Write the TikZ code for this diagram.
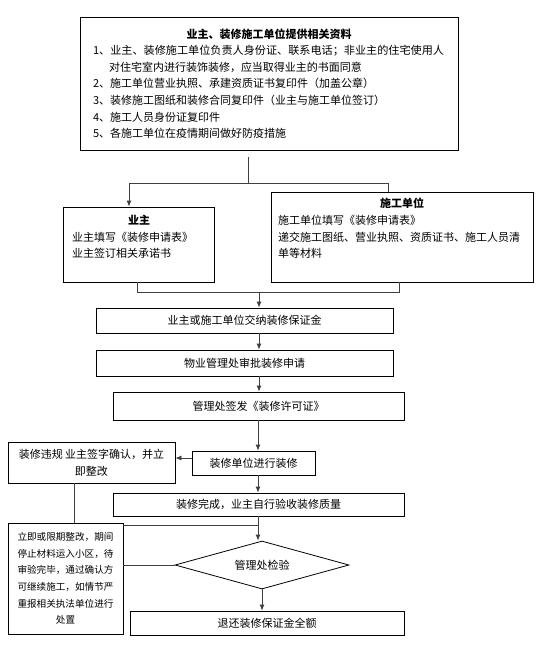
\documentclass[tikz,border=0pt]{standalone}
\usepackage{fontspec}
\setmainfont{Noto Sans CJK SC}
\usepackage{graphicx}
\usetikzlibrary{arrows.meta,shapes.geometric}
\tikzset{
  box/.style={draw=black, line width=0.8pt, inner sep=0pt, rectangle},
  conn/.style={draw=black!75, line width=0.8pt},
  arr/.style={conn, -{Latex[length=6pt,width=5pt]}},
  txt/.style={font=\fontsize{11pt}{16.6pt}\selectfont},
  small/.style={font=\fontsize{9.6pt}{16.6pt}\selectfont},
}
\begin{document}
\begin{tikzpicture}[x=1pt,y=-1pt]
\fill[white] (0,0) rectangle (544,670);
\useasboundingbox (0,0) rectangle (544,670);

% top box
\node[box, txt, minimum width=378pt, minimum height=133pt, text width=352pt, align=left] (T) at (269,83.5)
{\makebox[352pt]{\bfseries 业主、装修施工单位提供相关资料}\\
\resizebox{351pt}{\height}{1、业主、装修施工单位负责人身份证、联系电话；非业主的住宅使用人}\\
\hspace*{16pt}对住宅室内进行装饰装修，应当取得业主的书面同意\\
2、施工单位营业执照、承建资质证书复印件（加盖公章）\\
3、装修施工图纸和装修合同复印件（业主与施工单位签订）\\
4、施工人员身份证复印件\\
5、各施工单位在疫情期间做好防疫措施};

% owner box
\node[box, minimum width=151pt, minimum height=75pt] (A) at (138.5,244.5) {};
\node[txt, anchor=north west, inner sep=0pt, text width=134pt, align=left] (Atxt) at (72,215)
{\makebox[134pt]{\bfseries 业主}\\
业主填写《装修申请表》\\
业主签订相关承诺书};

% contractor box
\node[box, minimum width=262pt, minimum height=90pt] (B) at (402,237) {};
\node[txt, anchor=north west, inner sep=0pt, text width=248pt, align=left] (Btxt) at (278,198)
{\makebox[248pt]{\bfseries 施工单位}\\
施工单位填写《装修申请表》\\
递交施工图纸、营业执照、资质证书、施工人员清\\
单等材料};

% main column
\node[box, txt, minimum width=297pt, minimum height=25pt] (C1) at (244.5,320.5) {业主或施工单位交纳装修保证金};
\node[box, txt, minimum width=297pt, minimum height=26pt] (C2) at (244.5,363) {物业管理处审批装修申请};
\node[box, txt, minimum width=291pt, minimum height=28pt] (C3) at (258.5,406) {管理处签发《装修许可证》};
\node[box, txt, minimum width=123pt, minimum height=24pt] (C4) at (253.5,463) {装修单位进行装修};
\node[box, txt, minimum width=291pt, minimum height=23pt] (C5) at (258.5,504.5) {装修完成，业主自行验收装修质量};
\node[draw=black, line width=0.8pt, diamond, txt, inner sep=0pt, shape aspect=3.6,
      minimum width=174pt, minimum height=48pt] (D) at (262,565) {管理处检验};
\node[box, txt, minimum width=274pt, minimum height=24pt] (C6) at (267,623) {退还装修保证金全额};

% side boxes
\node[box, txt, minimum width=167pt, minimum height=41pt, align=center] (L1) at (91.5,462.5)
{装修违规 业主签字确认，并立\\即整改};
\node[box, small, minimum width=115pt, minimum height=111pt, align=center] (L2) at (65.5,578.5)
{立即或限期整改，期间\\停止材料运入小区，待\\审验完毕，通过确认方\\可继续施工，如情节严\\重报相关执法单位进行\\处置};

% coordinates
\coordinate (split) at (248,183);
\coordinate (spL) at (129,183);
\coordinate (spR) at (388,183);
\coordinate (jL) at (137,292);
\coordinate (jR) at (399,292);
\coordinate (join) at (259,292);
\coordinate (ax) at (259,0);
\coordinate (ax2) at (258,0);
\coordinate (lx) at (74,0);
\coordinate (fb) at (258,525);

% connectors
\draw[conn, shorten <=7pt] (T.south -| split) -- (split);
\draw[conn] (spL) -- (spR);
\draw[arr] (spL) -- (spL |- A.north);
\draw[conn] (spR) -- (spR |- B.north);
\draw[conn] (jL |- A.south) -- (jL) -- (jR) -- (jR |- B.south);
\draw[arr] (join) -- (join |- C1.north);
\draw[arr] (C1.south -| ax) -- (C2.north -| ax);
\draw[arr] (C2.south -| ax) -- (C3.north -| ax);
\draw[arr] (C3.south -| ax2) -- (C4.north -| ax2);
\draw[arr] (C4.south -| ax2) -- (C5.north -| ax2);
\draw[arr] (C5.south -| ax2) -- (D.north -| ax2);
\draw[arr] (D.south) -- (D.south |- C6.north);
\draw[arr] ([yshift=5pt]C4.west) -- ([yshift=5pt]C4.west -| L1.east);
\draw[conn] (L1.south -| lx) -- (L2.north -| lx);
\draw[conn] (fb) -- (fb -| L2.east);
\draw[conn] (D.west) -- (D.west -| L2.east);
\end{tikzpicture}
\end{document}
